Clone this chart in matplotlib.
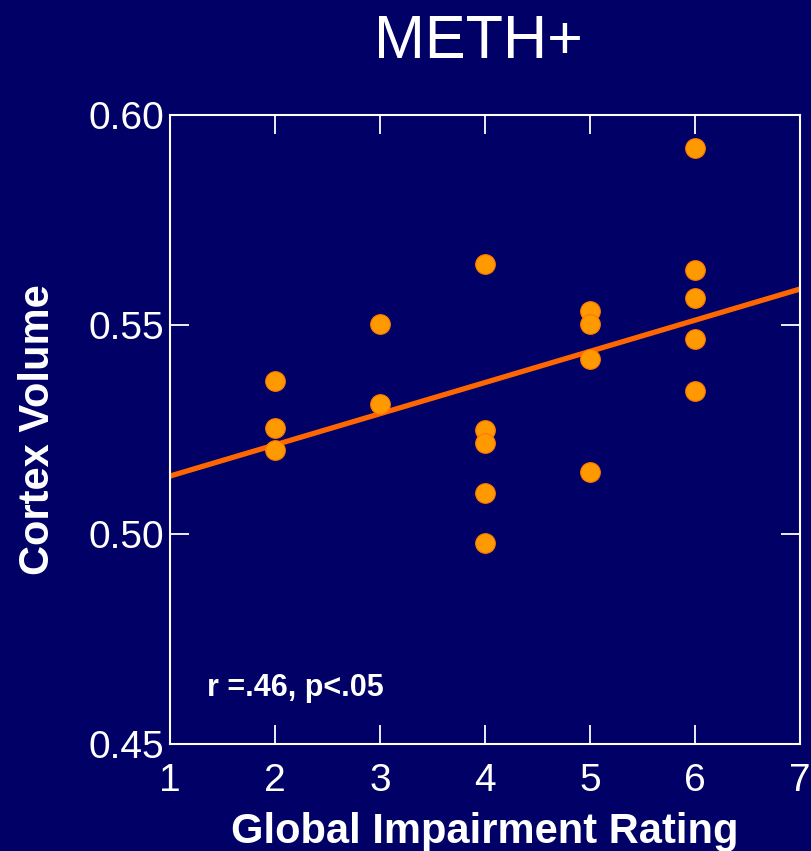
import numpy as np
import matplotlib
matplotlib.use("Agg")
import matplotlib.pyplot as plt

# global impairment rating vs cortex volume, METH+ group
rating = [2, 2, 2, 3, 3, 4, 4, 4, 4, 4, 5, 5, 5, 5, 6, 6, 6, 6, 6]
volume = [0.5366, 0.5254, 0.5201, 0.5502, 0.5311,
          0.5645, 0.5249, 0.5218, 0.5099, 0.4979,
          0.5533, 0.5502, 0.5418, 0.5149,
          0.5921, 0.5630, 0.5564, 0.5466, 0.5342]
fit_x = [1, 7]
fit_y = [0.5139, 0.5585]

xticks = [1, 2, 3, 4, 5, 6, 7]
yticks = [0.45, 0.50, 0.55, 0.60]

bg = '#000066'
plt.rcParams['font.family'] = ['Liberation Sans', 'DejaVu Sans']

fig = plt.figure(figsize=(8.12, 8.51), dpi=100, facecolor=bg)
ax = fig.add_axes([170 / 812, 1 - 744 / 851, 630 / 812, 629 / 851])
ax.set_facecolor(bg)

ax.plot(fit_x, fit_y, color='#FF6600', lw=3.8, solid_capstyle='butt', zorder=2)
ax.scatter(rating, volume, s=200, color='#FF9900', edgecolors='#FF7700',
           linewidths=0.8, zorder=3)

ax.set_xlim(1, 7)
ax.set_ylim(0.45, 0.60)
ax.set_xticks(xticks)
ax.set_yticks(yticks)
ax.set_yticklabels([f'{v:.2f}' for v in yticks])

for s in ax.spines.values():
    s.set_color('white')
    s.set_linewidth(1.5)
ax.tick_params(direction='in', length=14, width=1.3, color='white',
               labelcolor='white', labelsize=28, top=True, right=True, pad=4)
ax.tick_params(axis='x', pad=14)

ax.set_xlabel('Global Impairment Rating', color='white', fontsize=30,
              fontweight='bold', labelpad=9)
ax.set_ylabel('Cortex Volume', color='white', fontsize=30,
              fontweight='bold', labelpad=22)
ax.text(0.059, 0.076, 'r =.46, p<.05', transform=ax.transAxes, color='white',
        fontsize=22, fontweight='bold')
fig.text(478 / 812, 1 - 42 / 851, 'METH+', color='white', fontsize=44,
         ha='center', va='center')

fig.savefig('out.png', dpi=100, facecolor=bg)
